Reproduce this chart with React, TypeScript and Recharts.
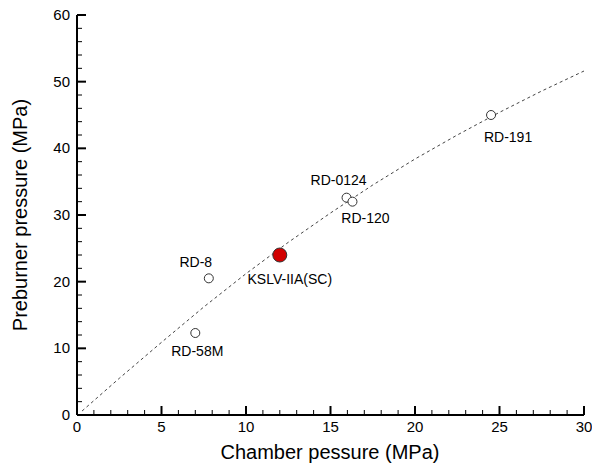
import { ScatterChart, Scatter, XAxis, YAxis, Label } from 'recharts'

// engines: name, chamber pressure (MPa), preburner pressure (MPa)
const engineNames = ['RD-58M', 'RD-8', 'KSLV-IIA(SC)', 'RD-0124', 'RD-120', 'RD-191']
const chamberPressure = [7.0, 7.8, 12.0, 15.95, 16.3, 24.5]
const preburnerPressure = [12.3, 20.5, 24.0, 32.6, 32.0, 45.0]

// dashed trend line
const trendX = [0.3, 2.5, 5, 7.5, 10, 12.5, 15, 17.5, 20, 22.5, 25, 27.5, 30]
const trendY = [0.6, 5.5, 10.9, 16.2, 21.2, 25.9, 30.3, 34.5, 38.4, 42.0, 45.4, 48.6, 51.6]

const xTicks = Array.from({ length: 31 }, (_, i) => i)
const yTicks = Array.from({ length: 31 }, (_, i) => i * 2)

const FONT = '"Liberation Sans", Arial, sans-serif'

// where each engine label sits relative to its marker
const labelOffset: { [k: string]: [number, number] } = {
  'RD-58M': [2, 18],
  'RD-8': [-13, -16],
  'KSLV-IIA(SC)': [10, 24],
  'RD-0124': [-8, -18],
  'RD-120': [13, 16],
  'RD-191': [17, 22],
}

const engineData = engineNames.map((name, i) => ({
  name,
  x: chamberPressure[i],
  y: preburnerPressure[i],
}))
const trendData = trendX.map((x, i) => ({ x, y: trendY[i] }))

const XTick = ({ x, y, payload }: any) => {
  const major = payload.value % 5 === 0
  return (
    <g>
      <line x1={x} y1={y} x2={x} y2={y - (major ? 9 : 5)} stroke="#000" strokeWidth={major ? 2 : 1} />
      {major && (
        <text x={x} y={y + 17} textAnchor="middle" fontSize={15} fontFamily={FONT} fill="#000">
          {payload.value}
        </text>
      )}
    </g>
  )
}

const YTick = ({ x, y, payload }: any) => {
  const major = payload.value % 10 === 0
  return (
    <g>
      <line x1={x} y1={y} x2={x + (major ? 9 : 5)} y2={y} stroke="#000" strokeWidth={major ? 2 : 1} />
      {major && (
        <text x={x - 7} y={y + 5} textAnchor="end" fontSize={15} fontFamily={FONT} fill="#000">
          {payload.value}
        </text>
      )}
    </g>
  )
}

const EngineMarker = (props: any) => {
  const { cx, cy, payload } = props
  const ours = payload.name === 'KSLV-IIA(SC)'
  const [dx, dy] = labelOffset[payload.name] || [0, 0]
  return (
    <g>
      {ours ? (
        <circle cx={cx} cy={cy} r={7} fill="#d10000" stroke="#333" strokeWidth={1} />
      ) : (
        <circle cx={cx} cy={cy} r={4.5} fill="#fff" stroke="#333" strokeWidth={1} />
      )}
      <text x={cx + dx} y={cy + dy + 5} textAnchor="middle" fontSize={14} fontFamily={FONT} fill="#000">
        {payload.name}
      </text>
    </g>
  )
}

export default function App() {
  return (
    <div style={{ position: 'absolute', left: 0, top: 0, background: '#fff' }}>
      <ScatterChart width={592} height={464} margin={{ top: 15, right: 8, bottom: 0, left: 0 }}>
        <XAxis
          type="number"
          dataKey="x"
          domain={[0, 30]}
          ticks={xTicks}
          interval={0}
          tickSize={0}
          tickMargin={0}
          tick={<XTick />}
          height={49}
          axisLine={{ stroke: '#000', strokeWidth: 2 }}
          allowDataOverflow
        >
          <Label
            content={() => (
              <text x={330} y={459} textAnchor="middle" fontSize={20} fontFamily={FONT} fill="#000">
                Chamber pessure (MPa)
              </text>
            )}
          />
        </XAxis>
        <YAxis
          type="number"
          dataKey="y"
          domain={[0, 60]}
          ticks={yTicks}
          interval={0}
          tickSize={0}
          tickMargin={0}
          tick={<YTick />}
          width={77}
          axisLine={{ stroke: '#000', strokeWidth: 2 }}
          allowDataOverflow
        >
          <Label
            content={() => (
              <text
                x={0}
                y={0}
                transform="translate(27, 215) rotate(-90)"
                textAnchor="middle"
                fontSize={20}
                fontFamily={FONT}
                fill="#000"
              >
                Preburner pressure (MPa)
              </text>
            )}
          />
        </YAxis>
        <XAxis
          xAxisId="top"
          orientation="top"
          type="number"
          domain={[0, 30]}
          height={0}
          tick={false}
          tickLine={false}
          axisLine={{ stroke: '#000', strokeWidth: 2 }}
        />
        <YAxis
          yAxisId="right"
          orientation="right"
          type="number"
          domain={[0, 60]}
          width={0}
          tick={false}
          tickLine={false}
          axisLine={{ stroke: '#000', strokeWidth: 2 }}
        />
        <Scatter
          data={trendData}
          line={{ stroke: '#444', strokeWidth: 1, strokeDasharray: '3 3' }}
          lineType="joint"
          shape={() => <g />}
          isAnimationActive={false}
        />
        <Scatter data={engineData} shape={<EngineMarker />} isAnimationActive={false} />
      </ScatterChart>
    </div>
  )
}
